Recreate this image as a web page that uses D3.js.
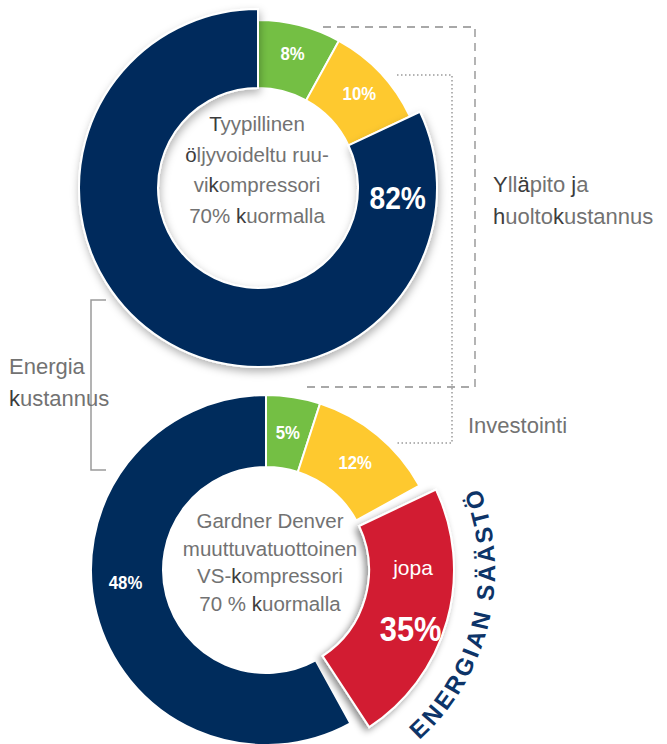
<!DOCTYPE html>
<html>
<head>
<meta charset="utf-8">
<script src="https://cdn.jsdelivr.net/npm/d3@7"></script>
<style>
    body { margin: 0; background: #fff; }
    svg { display: block; }
    .lbl { font-family: "Liberation Sans", Arial, sans-serif; fill: #727272; }
    .lbl .dk { fill: #3c3c3c; }
    .pct { font-family: "Liberation Sans", Arial, sans-serif; font-weight: bold; fill: #fff; text-anchor: middle; }
</style>
</head>
<body>
<svg id="chart"></svg>
<script>
// segments: investment, maintenance, energy (+ saving in the lower ring)
const topValues = [8, 10, 82];
const topLabels = ['8%', '10%', '82%'];
const bottomValues = [5, 12, 35, 48];
const bottomLabels = ['5%', '12%', '35%', '48%'];
// the lower graphic does not draw red/navy in proportion, these are the shares as drawn
const bottomArcShare = [5, 12, 25, 58];
const topColors = ['#74bf44', '#fec92f', '#002c5c'];
const bottomColors = ['#74bf44', '#fec92f', '#d21f30', '#002c5c'];

const topCenter = ['{T}yypillinen', '{ö}ljyvoideltu ruu-', 'vi{k}ompressori', '70% {k}uormalla'];
const bottomCenter = ['Gardner Denver', 'muuttuvatuottoinen', 'VS-{k}ompressori', '70 % {k}uormalla'];
const sideLabels = {
    upkeep: ['{Y}ll{ä}pito {j}a', '{h}uolto{k}ustannus'],
    invest: ['Investointi'],
    energy: ['Energia', '{k}ustannus']
};

const width = 667, height = 744;
const svg = d3.select('#chart').attr('width', width).attr('height', height);

const defs = svg.append('defs');
defs.append('filter').attr('id', 'shadow')
    .attr('x', '-20%').attr('y', '-20%').attr('width', '140%').attr('height', '140%')
    .append('feDropShadow')
    .attr('dx', 1).attr('dy', 4).attr('stdDeviation', 4)
    .attr('flood-color', '#000').attr('flood-opacity', 0.3);
defs.append('filter').attr('id', 'shadowRed')
    .attr('x', '-20%').attr('y', '-20%').attr('width', '140%').attr('height', '140%')
    .append('feDropShadow')
    .attr('dx', -3).attr('dy', 3).attr('stdDeviation', 3.5)
    .attr('flood-color', '#000').attr('flood-opacity', 0.45);

const deg = Math.PI / 180;
const polar = (c, a, r) => [c[0] + r * Math.sin(a * deg), c[1] - r * Math.cos(a * deg)];
const squeeze = 0.88; // the original numbers are set in a condensed face

// multi-colour text line: {x} marks darker glyphs
function richLine(sel, str) {
    str.split(/(\{[^}]*\})/).filter(s => s.length).forEach(s => {
        if (s[0] === '{') sel.append('tspan').attr('class', 'dk').text(s.slice(1, -1));
        else sel.append('tspan').text(s);
    });
}

function textBlock(lines, x, y0, step, size, anchor) {
    lines.forEach((l, i) => {
        const t = svg.append('text').attr('class', 'lbl')
            .attr('x', x).attr('y', y0 + i * step)
            .attr('font-size', size)
            .attr('text-anchor', anchor);
        richLine(t, l);
    });
}

const pie = d3.pie().sort(null).value(d => d);

// ---------- guide lines ----------
svg.append('path')
    .attr('d', 'M323,27H475V387H305')
    .attr('fill', 'none').attr('stroke', '#8c8c8c')
    .attr('stroke-width', 1.3).attr('stroke-dasharray', '8,6');
svg.append('path')
    .attr('d', 'M397,75H452V443H397')
    .attr('fill', 'none').attr('stroke', '#9a9a9a')
    .attr('stroke-width', 1.5).attr('stroke-dasharray', '1.5,2.5');
svg.append('path')
    .attr('d', 'M106,300H91V470H106')
    .attr('fill', 'none').attr('stroke', '#9a9a9a').attr('stroke-width', 1.5);

// ---------- upper ring ----------
const c1 = [258, 188];
const g1 = svg.append('g').attr('transform', `translate(${c1})`);
const arc1 = d3.arc().innerRadius(100).outerRadius((d, i) => i === 2 ? 179 : 168);
const topArcs = pie(topValues);

g1.selectAll('path')
    .data(topArcs)
    .join('path')
    .attr('d', (d, i) => arc1(d, i))
    .attr('fill', (d, i) => topColors[i])
    .attr('stroke', '#fff')
    .attr('stroke-width', 2)
    .attr('filter', (d, i) => i === 2 ? 'url(#shadow)' : null);

const lblArc1 = d3.arc().innerRadius(139).outerRadius(139);
g1.selectAll('.pct')
    .data(topArcs)
    .join('text')
    .attr('class', 'pct')
    .attr('font-size', (d, i) => i === 2 ? 32 : 19)
    .attr('transform', (d, i) => {
        const p = i === 2 ? polar([0, 0], 94, 140) : lblArc1.centroid(d);
        return `translate(${p}) scale(${squeeze},1)`;
    })
    .attr('dy', (d, i) => i === 2 ? 11.5 : 7)
    .text((d, i) => topLabels[i]);

textBlock(topCenter, 257, 131, 30.7, 20.5, 'middle');

// ---------- lower ring ----------
const c2 = [266, 570];
const g2 = svg.append('g').attr('transform', `translate(${c2})`);
const arc2 = d3.arc().innerRadius(103).outerRadius(175);
const arcRed = d3.arc().innerRadius(103).outerRadius(188);
const bottomArcs = pie(bottomArcShare);

g2.selectAll('path.seg')
    .data(bottomArcs.filter((d, i) => i !== 2))
    .join('path')
    .attr('class', 'seg')
    .attr('d', arc2)
    .attr('fill', d => bottomColors[d.index])
    .attr('stroke', '#fff')
    .attr('stroke-width', 2);

const red = bottomArcs[2];
g2.append('path')
    .attr('d', arcRed({startAngle: red.startAngle + 3.5 * deg, endAngle: red.endAngle - 4.5 * deg}))
    .attr('fill', bottomColors[2])
    .attr('stroke', '#fff')
    .attr('stroke-width', 2)
    .attr('filter', 'url(#shadowRed)');

const lblArc2 = d3.arc().innerRadius(140).outerRadius(140);
const bottomLabelPos = [
    d => lblArc2.centroid(d),
    d => lblArc2.centroid(d),
    () => polar([0, 0], 112, 156),
    () => polar([0, 0], 265, 141)
];
g2.selectAll('.pct')
    .data(bottomArcs)
    .join('text')
    .attr('class', 'pct')
    .attr('font-size', (d, i) => i === 2 ? 35 : 19)
    .attr('transform', (d, i) => `translate(${bottomLabelPos[i](d)}) scale(${squeeze},1)`)
    .attr('dy', (d, i) => i === 2 ? 12.5 : 7)
    .text((d, i) => bottomLabels[i]);

g2.append('text')
    .attr('class', 'lbl')
    .attr('transform', `translate(${polar([0, 0], 89, 147)})`)
    .attr('dy', 8)
    .attr('text-anchor', 'middle')
    .attr('font-size', 21)
    .style('fill', '#fff')
    .text('jopa');

textBlock(bottomCenter, 270, 528, 27.5, 20.5, 'middle');

// curved caption along the red segment
const rCap = 229;
const pA = polar(c2, 140, rCap), pB = polar(c2, 60, rCap);
defs.append('path').attr('id', 'capPath')
    .attr('d', `M${pA}A${rCap},${rCap} 0 0 0 ${pB}`);
svg.append('text')
    .attr('font-family', '"Liberation Sans", Arial, sans-serif')
    .attr('font-weight', 'bold')
    .attr('font-size', 24)
    .attr('letter-spacing', 3)
    .attr('fill', '#0d3468')
    .append('textPath')
    .attr('href', '#capPath')
    .attr('startOffset', 8)
    .text('ENERGIAN SÄÄSTÖ');

// ---------- side labels ----------
textBlock(sideLabels.upkeep, 493, 192, 31.5, 22, 'start');
textBlock(sideLabels.invest, 468, 433, 30, 22, 'start');
textBlock(sideLabels.energy, 9, 374, 32, 22, 'start');
</script>
</body>
</html>
